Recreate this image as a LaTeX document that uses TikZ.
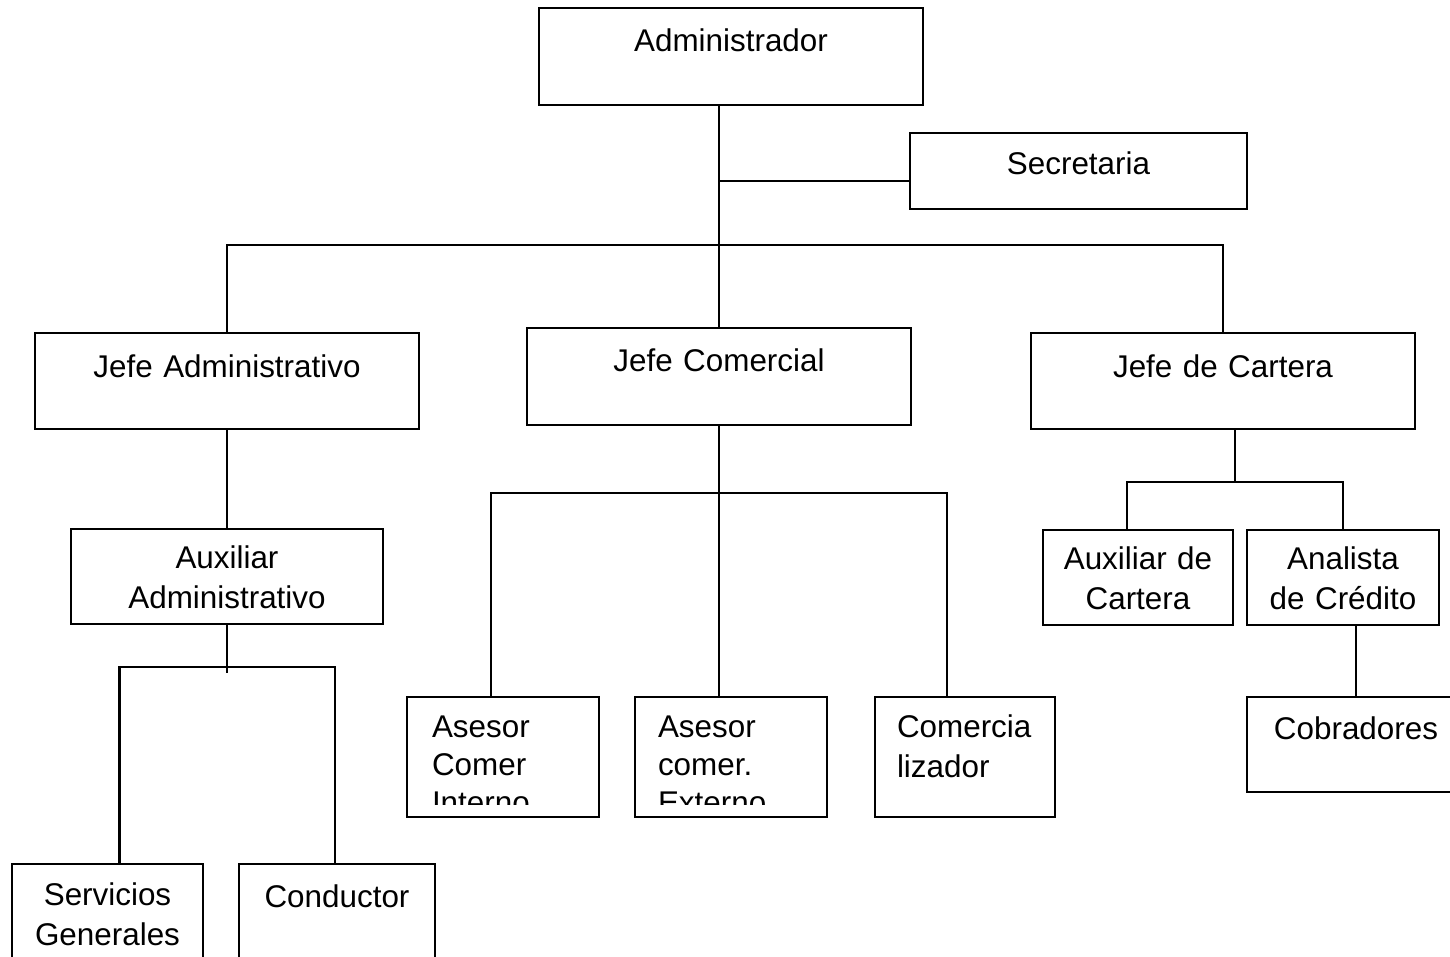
\documentclass[tikz,border=0pt]{standalone}
\usepackage{fontspec}
\setmainfont{Liberation Sans}

\begin{document}
\begin{tikzpicture}[x=0.5pt, y=-0.5pt,
    orgbox/.style={draw, line width=1.2pt, anchor=north west, inner sep=0pt,
        outer sep=0pt, align=center, font=\fontsize{15.7pt}{20pt}\selectfont},
    leftbox/.style={orgbox, align=left,
        font=\fontsize{15.7pt}{19pt}\selectfont},
    link/.style={line width=1.2pt}]
    \useasboundingbox (0, 0) rectangle (1450, 957);
    \clip (0, 0) rectangle (1450, 957);

    \node[orgbox, text width=192pt, text height=22pt, text depth=26.5pt]
        (admin) at (539, 8) {Administrador};
    \node[orgbox, text width=168.5pt, text height=21pt, text depth=17pt]
        (secretaria) at (910, 133) {Secretaria};
    \node[orgbox, text width=192pt, text height=22pt, text depth=26pt]
        (jadmin) at (35, 333) {Jefe Administrativo};
    \node[orgbox, text width=192pt, text height=21.5pt, text depth=27pt]
        (jcomercial) at (527, 328) {Jefe Comercial};
    \node[orgbox, text width=192pt, text height=22pt, text depth=26pt]
        (jcartera) at (1031, 333) {Jefe de Cartera};
    \node[orgbox, text width=156pt, text height=19.5pt, text depth=28pt]
        (auxadmin) at (71, 529) {Auxiliar\\Administrativo};
    \node[orgbox, text width=95pt, text height=19.5pt, text depth=28pt]
        (auxcartera) at (1043, 530) {Auxiliar de\\Cartera};
    \node[orgbox, text width=96pt, text height=19.5pt, text depth=28pt]
        (analista) at (1247, 530) {Analista\\de Cr\'edito};
    \node[orgbox, text width=109pt, text height=21pt, text depth=26.5pt]
        (cobradores) at (1247, 697) {Cobradores};
    \node[leftbox, inner xsep=12.5pt, text width=71pt, text height=20pt,
        text depth=40pt] (interno) at (407, 697) {Asesor\\Comer\\Interno};
    \node[leftbox, inner xsep=11.5pt, text width=73pt, text height=20pt,
        text depth=40pt] (externo) at (635, 697) {Asesor\\comer.\\Externo};
    \node[orgbox, align=left, inner xsep=11pt, text width=68pt,
        text height=20pt, text depth=40pt] (comercia) at (875, 697)
        {Comercia\\lizador};
    \node[orgbox, text width=95.5pt, text height=20.5pt, text depth=29pt]
        (servicios) at (12, 864) {Servicios\\Generales};
    \node[orgbox, text width=98pt, text height=21.5pt, text depth=28pt]
        (conductor) at (239, 864) {Conductor};

    % the last line of the two Asesor boxes is cut off
    \fill[white] ([shift={(0.7pt, 0.7pt)}]interno.south west) rectangle
        ([shift={(-0.7pt, 6pt)}]interno.south east);
    \fill[white] ([shift={(0.7pt, 0.7pt)}]externo.south west) rectangle
        ([shift={(-0.7pt, 6pt)}]externo.south east);

    \coordinate (sec-join) at (719, 181);
    \coordinate (top-bar) at (719, 245);
    \coordinate (aux-bar) at (227, 667);
    \coordinate (aux-stub) at (227, 673);
    \coordinate (com-bar) at (719, 493);
    \coordinate (car-bar) at (1235, 482);

    \draw[link] (admin.south -| jcomercial.north) -- (jcomercial.north);
    \draw[link] (sec-join) -- (sec-join -| secretaria.west);
    \draw[link] (jadmin.north) |- (top-bar) -| (jcartera.north);
    \draw[link] (jadmin.south) -- (auxadmin.north);
    \draw[link] (auxadmin.south) -- (aux-stub);
    \draw[link] ([xshift=6pt]servicios.north) |- (aux-bar)
        -| ([xshift=-1pt]conductor.north);
    \draw[link] (jcomercial.south) -- (jcomercial.south |- externo.north);
    \draw[link] ([xshift=-6pt]interno.north) |- (com-bar)
        -| ([xshift=-9pt]comercia.north);
    \draw[link] ([xshift=6pt]jcartera.south) -- (car-bar);
    \draw[link] ([xshift=-5.5pt]auxcartera.north) |- (car-bar)
        -| (analista.north);
    \draw[link] (cobradores.north |- analista.south) -- (cobradores.north);
\end{tikzpicture}
\end{document}
